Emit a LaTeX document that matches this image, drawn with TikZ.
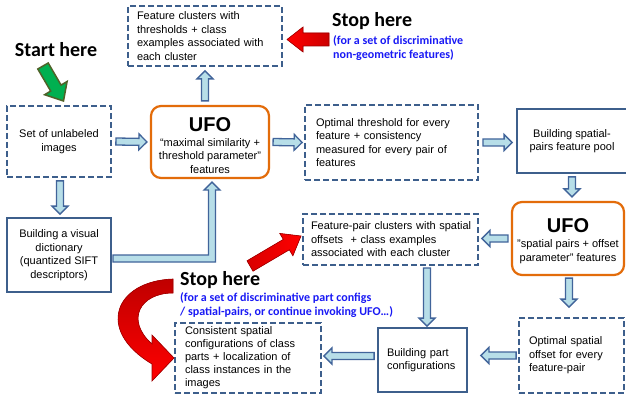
\documentclass[tikz,border=0pt]{standalone}
\usepackage{fontspec}
\setmainfont{Liberation Sans}
\newfontfamily\calfont{Carlito}
\usetikzlibrary{calc}
\definecolor{boxblue}{HTML}{3D5F8C}
\definecolor{arrowblue}{HTML}{41649A}
\definecolor{arrowfill}{HTML}{B7DEE8}
\definecolor{ufoorange}{HTML}{E36C0A}
\definecolor{bluetxt}{RGB}{25,25,245}
\definecolor{greenfill}{HTML}{00B050}
\definecolor{greenline}{HTML}{4F6228}
\tikzset{
  basebox/.style={draw=boxblue, line width=1.8pt, inner ysep=0pt, minimum height=#1, font=\fontsize{11}{13.5}\selectfont},
  dbox/.style={basebox=#1, dash pattern=on 6pt off 3pt},
  sbox/.style={basebox=#1},
  ufobox/.style={draw=ufoorange, line width=2.2pt, rounded corners=10pt, inner sep=0pt, minimum height=#1, align=center, font=\fontsize{11}{13.5}\selectfont},
  barrowstyle/.style={draw=arrowblue, fill=arrowfill, line width=1.3pt, line join=miter},
  stoptxt/.style={font=\calfont\bfseries\fontsize{20}{24}\selectfont, inner sep=0pt},
  notetxt/.style={font=\calfont\bfseries\fontsize{12}{14}\selectfont, text=bluetxt, inner sep=0pt, align=left},
  redshape/.style={draw=red!60!black, line width=0.6pt, fill=red},
}
\newcommand\blockarr[2]{%
  \path[barrowstyle] let \p1=(#1), \p2=(#2),
    \n1={atan2(\y2-\y1,\x2-\x1)}, \n2={veclen(\x2-\x1,\y2-\y1)} in
    ($(\p1)+({\n1+90}:3.5pt)$) --
    ($(\p1)+(\n1:{\n2-8pt})+({\n1+90}:3.5pt)$) --
    ($(\p1)+(\n1:{\n2-8pt})+({\n1+90}:8pt)$) --
    (\p2) --
    ($(\p1)+(\n1:{\n2-8pt})+({\n1-90}:8pt)$) --
    ($(\p1)+(\n1:{\n2-8pt})+({\n1-90}:3.5pt)$) --
    ($(\p1)+({\n1-90}:3.5pt)$) -- cycle;}
\begin{document}
\begin{tikzpicture}[x=1pt,y=-1pt]
\fill[white] (0,0) rectangle (626,398);
\useasboundingbox (0,0) rectangle (626,398);

% boxes
\node[dbox=60, minimum width=154, inner xsep=9pt, text width=136, align=left] (top) at (205,36)
  {Feature clusters with\\thresholds + class\\examples associated with\\each cluster};
\node[dbox=71, minimum width=104, align=center] (set) at (59,141.5)
  {Set of unlabeled\\images};
\node[ufobox=72, minimum width=118] (ufo1) at (210,142)
  {{\rule{0pt}{21pt}\fontsize{20}{24}\selectfont\bfseries UFO}\\[1.5pt]“maximal similarity +\\threshold parameter”\\features};
\node[dbox=75, minimum width=173, inner xsep=11pt, text width=151, align=left] (optthr) at (391.5,142.5)
  {Optimal threshold for every\\feature + consistency\\measured for every pair of\\features};
\node[sbox=64, minimum width=110, align=center] (pool) at (572,141)
  {Building spatial-\\pairs feature pool};
\node[sbox=74, minimum width=104, align=center] (dict) at (59,255)
  {Building a visual\\dictionary\\(quantized SIFT\\descriptors)};
\node[dbox=51, minimum width=175, inner xsep=8pt, text width=159, align=left] (fpc) at (390.5,239.5)
  {\mbox{Feature-pair clusters with spatial}\\offsets\ \ + class examples\\associated with each cluster};
\node[ufobox=73, minimum width=112] (ufo2) at (568,238.5)
  {{\rule{0pt}{19pt}\fontsize{20}{24}\selectfont\bfseries UFO}\\[1.5pt]"spatial pairs + offset\\parameter" features};
\node[dbox=75, minimum width=105, inner xsep=10pt, text width=85, align=left] (optoff) at (571.5,355.5)
  {Optimal spatial\\offset for every\\feature-pair};
\node[sbox=64, minimum width=89, inner xsep=9pt, text width=71, align=left] (bpc) at (422.5,360)
  {Building part\\configurations};
\node[dbox=70, minimum width=146, inner xsep=10pt, text width=126, align=left, font=\fontsize{11}{13}\selectfont] (cons) at (248,358)
  {Consistent spatial\\configurations of class\\parts + localization of\\class instances in the\\images};

% texts
\node[stoptxt] (start) at (56,50) {Start here};
\node[stoptxt, anchor=base west] (stop1) at (332,27) {Stop here};
\node[notetxt, anchor=north west] (note1) at (333,35) {(for a set of discriminative\\non-geometric features)};
\node[stoptxt, anchor=base west] (stop2) at (180,285) {Stop here};
\node[notetxt, anchor=north west] (note2) at (180,292) {(for a set of discriminative part configs\\/ spatial-pairs, or continue invoking UFO…)};

% block arrows
\blockarr{[xshift=4pt]set.east}{[xshift=-3pt]ufo1.west}
\blockarr{[xshift=3pt]ufo1.east}{[xshift=-2pt]optthr.west}
\blockarr{[xshift=4pt]optthr.east}{[xshift=-4pt]optthr.east -| pool.west}
\blockarr{[yshift=-3pt]pool.south}{[yshift=4pt]pool.south |- ufo2.north}
\blockarr{[xshift=-3pt]ufo2.west}{[xshift=3pt]ufo2.west -| fpc.east}
\blockarr{[xshift=1pt,yshift=-2pt]ufo2.south}{[xshift=1pt,yshift=10pt]ufo2.south |- optoff.north}
\blockarr{[xshift=4.5pt,yshift=-2pt]bpc.north |- fpc.south}{[xshift=4.5pt,yshift=1pt]bpc.north}
\blockarr{[xshift=-2pt]optoff.west}{[xshift=13pt]optoff.west -| bpc.east}
\blockarr{[xshift=-3pt,yshift=4pt]bpc.west}{[xshift=2pt,yshift=4pt]bpc.west -| cons.east}
\blockarr{[xshift=-5pt,yshift=4pt]ufo1.north}{[xshift=-5pt,yshift=-4pt]ufo1.north |- top.south}
\blockarr{[xshift=1pt,yshift=-3pt]set.south}{[xshift=1pt,yshift=3pt]dict.north}
% elbow arrow dictionary -> UFO
\path[barrowstyle] let \p1=(dict.east), \p2=(ufo1.south) in
  (\x1+1pt,\y1) -- (\x2-1.5pt,\y1) -- (\x2-1.5pt,\y2-11pt) -- (\x2-6pt,\y2-11pt) --
  (\x2+2pt,\y2-3pt) -- (\x2+10pt,\y2-11pt) -- (\x2+5.5pt,\y2-11pt) --
  (\x2+5.5pt,\y1-7pt) -- (\x1+1pt,\y1-7pt) -- cycle;

% green start arrow
\draw[fill=greenfill, draw=greenline, line width=1.5pt, line join=miter]
  (48.2,63.0) -- (61.1,85.1) -- (67.1,81.5) -- (63.5,101) -- (44.7,94.7) -- (50.7,91.1) -- (37.8,69.0) -- cycle;

% red arrows
\draw[redshape, left color=red, right color=red!80!black]
  (329,33) -- (303,33) -- (303,27) -- (287,39.5) -- (303,52) -- (303,46) -- (329,46) -- cycle;
\draw[redshape, left color=red!85!black, right color=red]
  (253.0,271.2) -- (289.3,249.8) -- (292.9,255.8) -- (301,236) -- (279.7,233.4) -- (283.3,239.4) -- (247.0,260.8) -- cycle;
\draw[redshape, top color=red!75!black, bottom color=red]
  (173,279) .. controls (115,281) and (95,330) .. (152,364) -- (152,381) -- (174,358) -- (152,335) --
  (152,344) .. controls (125,320) and (140,293) .. (173,293) -- cycle;
\end{tikzpicture}
\end{document}
